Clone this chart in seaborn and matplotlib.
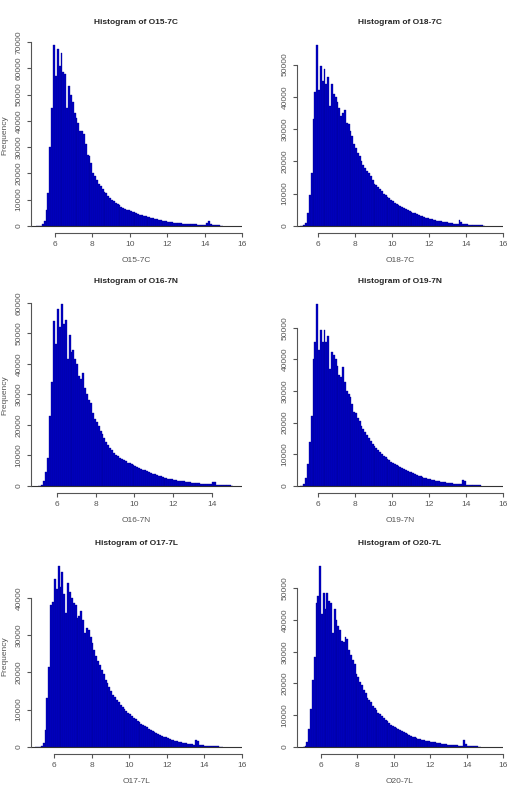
import numpy as np
import pandas as pd
import matplotlib
matplotlib.use('Agg')
import matplotlib.pyplot as plt
import seaborn as sns

# bin heights, bins of 0.1 starting at 5.0
bin_start = 5.0
bin_width = 0.1

names = ['O15-7C', 'O18-7C', 'O16-7N', 'O19-7N', 'O17-7L', 'O20-7L']

o15_7c = [0, 0, 0, 500, 2000, 6000, 12500, 30000, 44700, 68800,
          57000, 67500, 61000, 66000, 58500, 58000, 45000, 53300, 50000, 47000,
          43000, 41000, 39000, 36000, 36000, 35000, 31000, 27000, 26500, 24000,
          20000, 19000, 17500, 16000, 15000, 14000, 13000, 12300, 11500, 10700,
          10000, 9500, 8800, 8300, 7800, 7300, 6900, 6500, 6200, 6000,
          5800, 5400, 5100, 4800, 4500, 4200, 4000, 3800, 3600, 3400,
          3200, 3000, 2800, 2600, 2400, 2250, 2100, 1950, 1800, 1650,
          1500, 1400, 1300, 1200, 1100, 1000, 950, 900, 850, 800,
          750, 700, 650, 600, 550, 500, 450, 400, 380, 360,
          340, 900, 1800, 600, 250, 200, 160, 130, 100, 80]

o18_7c = [0, 0, 300, 1000, 4000, 9500, 16500, 33000, 41500, 56000,
          42000, 49500, 45000, 48500, 44000, 46000, 37000, 44000, 41000, 40000,
          38500, 36500, 34000, 35000, 36000, 32000, 31500, 29500, 28000, 25500,
          24000, 22500, 21500, 20000, 19000, 18000, 17000, 16500, 15500, 14300,
          13000, 12500, 11900, 11300, 10700, 10000, 9500, 9000, 8500, 8000,
          7600, 7200, 6900, 6500, 6200, 5900, 5600, 5300, 5000, 4700,
          4400, 4100, 3900, 3600, 3400, 3100, 2900, 2700, 2500, 2300,
          2200, 2000, 1900, 1750, 1600, 1500, 1400, 1300, 1200, 1100,
          1000, 900, 800, 700, 650, 650, 1700, 1200, 500, 450,
          400, 350, 300, 280, 250, 220, 180, 150, 100, 0]

o16_7n = [0, 0, 300, 1500, 4500, 9000, 23000, 34000, 54000, 46500,
          58000, 52000, 59500, 53000, 54500, 41500, 49500, 44000, 44500, 41500,
          40000, 36000, 35000, 37000, 32000, 30000, 28000, 27000, 24000, 22000,
          21000, 19500, 18000, 16800, 15600, 14500, 13500, 12500, 11600, 10800,
          10000, 9600, 9200, 8800, 8400, 8000, 7600, 7300, 7000, 6700,
          6500, 6200, 5900, 5600, 5300, 5000, 4700, 4400, 4200, 3950,
          3700, 3500, 3300, 3100, 2900, 2700, 2500, 2350, 2200, 2050,
          1900, 1800, 1700, 1600, 1500, 1400, 1300, 1200, 1100, 1000,
          900, 850, 800, 750, 700, 650, 600, 550, 500, 450,
          1300, 1100, 400, 350, 300, 250, 200, 160, 120, 90, 50]

o19_7n = [0, 0, 500, 2500, 7000, 14000, 22000, 40000, 45500, 57500,
          43000, 49500, 45500, 49500, 45500, 47500, 37000, 42500, 41500, 40000,
          38000, 35000, 34500, 37500, 33000, 30000, 29000, 28000, 26000, 23500,
          23000, 21500, 20500, 19000, 18000, 17000, 16000, 15000, 14200, 13300,
          12500, 11800, 11200, 10600, 10000, 9500, 9000, 8500, 8000, 7600,
          7200, 6800, 6500, 6200, 5900, 5600, 5300, 5000, 4700, 4450,
          4200, 3950, 3700, 3450, 3200, 3000, 2800, 2600, 2400, 2200,
          2000, 1850, 1700, 1550, 1450, 1350, 1250, 1150, 1050, 950,
          900, 820, 750, 680, 620, 560, 500, 460, 1700, 1500,
          350, 300, 250, 200, 170, 140, 110, 80]

o17_7l = [0, 0, 0, 300, 1000, 4500, 13000, 21500, 38000, 38800,
          45000, 42500, 48500, 43000, 47000, 41000, 36000, 44000, 41500, 40000,
          38500, 38000, 34500, 35000, 36500, 34000, 30500, 32000, 31500, 29500,
          28000, 26000, 24500, 23000, 22000, 20500, 19500, 18000, 17000, 16000,
          15000, 14000, 13300, 12600, 12000, 11300, 10700, 10100, 9600, 9100,
          8700, 8300, 7800, 7400, 7000, 6600, 6200, 5800, 5500, 5200,
          4900, 4600, 4300, 4000, 3700, 3400, 3100, 2900, 2700, 2500,
          2300, 2100, 1900, 1750, 1600, 1450, 1300, 1200, 1100, 1000,
          900, 800, 720, 650, 580, 1800, 1500, 450, 400, 350,
          300, 260, 230, 200, 170, 140, 110, 90, 70, 50]

o20_7l = [0, 200, 1500, 5500, 12000, 21000, 28500, 45500, 47500, 57000,
          42000, 48500, 43500, 48500, 46000, 45500, 36000, 43500, 40000, 38000,
          37000, 33500, 33000, 34500, 34000, 30500, 29000, 27500, 26000, 23000,
          22000, 20500, 19500, 18000, 17000, 15500, 14800, 14000, 13000, 12200,
          11500, 10800, 10200, 9600, 9000, 8500, 8000, 7500, 7000, 6600,
          6200, 5900, 5600, 5300, 5000, 4700, 4400, 4100, 3800, 3500,
          3200, 3000, 2800, 2600, 2400, 2250, 2100, 1950, 1800, 1700,
          1600, 1500, 1400, 1300, 1200, 1100, 1000, 900, 800, 700,
          600, 550, 500, 450, 420, 400, 380, 360, 2200, 800,
          300, 250, 200, 170, 140, 110, 80, 50]

counts = [o15_7c, o18_7c, o16_7n, o19_7n, o17_7l, o20_7l]
x_tick_top = [16, 16, 14, 16, 16, 16]
y_tick_top = [70000, 50000, 60000, 50000, 40000, 50000]

# layout (pixels in a 528x800 canvas)
xlims = [(4.72, 16.0), (4.86, 16.0), (4.66, 15.55), (4.86, 16.0), (4.78, 16.0), (4.68, 16.0)]
col_left = [31, 297]
col_right = [242, 503]
row_top = [38, 297, 559]
row_bottom = [233, 493, 754]

sns.set_style("white")
plt.rcParams['font.family'] = ['Liberation Sans', 'DejaVu Sans']
W, H = 528, 800
fig = plt.figure(figsize=(W / 100, H / 100), dpi=100)

grey = '#555555'
for i, (name, h) in enumerate(zip(names, counts)):
    r, c = divmod(i, 2)
    l, rt = col_left[c], col_right[c]
    t, b = row_top[r], row_bottom[r]
    ax = fig.add_axes([l / W, 1 - b / H, (rt - l) / W, (b - t) / H])
    edges = [round(bin_start + bin_width * k, 2) for k in range(len(h) + 1)]
    df = pd.DataFrame({'x': [e + bin_width / 2 for e in edges[:-1]], 'w': h})
    sns.histplot(data=df, x='x', weights='w', bins=edges, ax=ax,
                 color='#0000c4', edgecolor='#00008c', linewidth=0.25, alpha=1)
    ax.axhline(0, color='#333333', lw=0.8)
    m = max(h)
    ax.set_xlim(*xlims[i])
    ax.set_ylim(-0.04 * m, 1.04 * m)
    ax.set_xticks(np.arange(6, x_tick_top[i] + 1, 2))
    yt = np.arange(0, y_tick_top[i] + 1, 10000)
    ax.set_yticks(yt)
    ax.set_yticklabels([str(v) for v in yt])
    for s in ['top', 'right']:
        ax.spines[s].set_visible(False)
    ax.spines['left'].set_bounds(0, y_tick_top[i])
    ax.spines['bottom'].set_bounds(6, x_tick_top[i])
    for s in ['left', 'bottom']:
        ax.spines[s].set_color(grey)
        ax.spines[s].set_linewidth(0.8)
    ax.tick_params(axis='both', direction='out', length=3, width=0.8, color=grey,
                   labelcolor='#555555', labelsize=6, bottom=True, left=True, pad=3)
    for lab in ax.get_yticklabels():
        lab.set_rotation(90)
        lab.set_va('center')
    ax.set_title(f'Histogram of {name}', fontsize=6, fontweight='bold', pad=10)
    ax.set_xlabel(name, fontsize=6, color='#555555', labelpad=6)
    if c == 0:
        ax.set_ylabel('Frequency', fontsize=6, color='#555555', labelpad=5)
    else:
        ax.set_ylabel('')
    ax.grid(False)

fig.savefig('out.png', dpi=100, facecolor='white')
